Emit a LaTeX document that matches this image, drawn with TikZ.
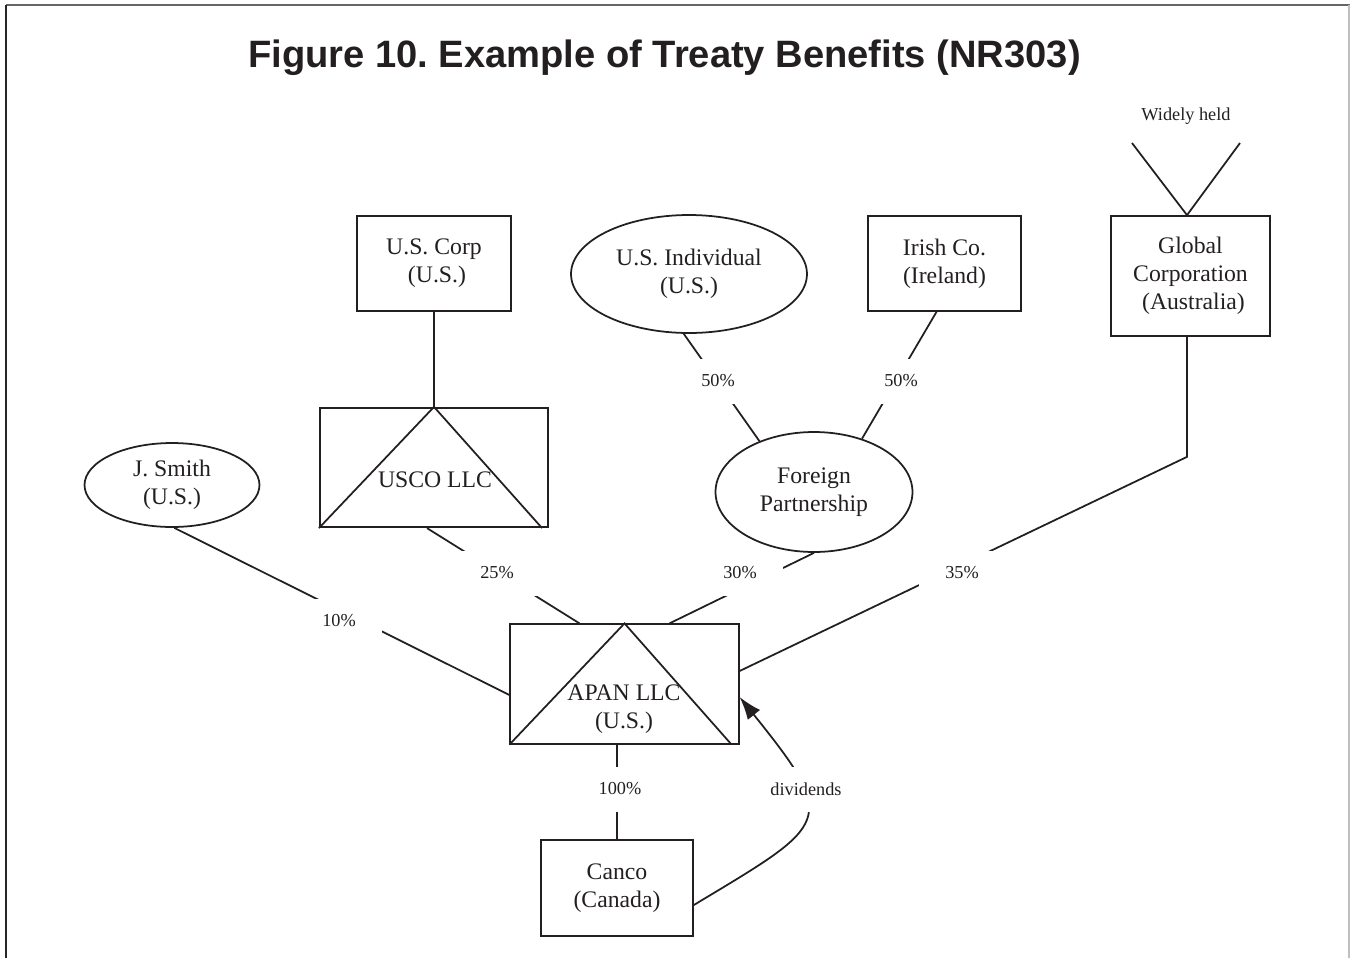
\documentclass[tikz,border=0pt]{standalone}
\usepackage{fontspec}
\setmainfont{Liberation Serif}
\newfontfamily\headfont{Liberation Sans}
\usepackage{tikz}
\definecolor{inkdark}{RGB}{35, 31, 32}
\usetikzlibrary{shapes.geometric, arrows.meta, positioning, calc}
\frenchspacing

\begin{document}
\begin{tikzpicture}[
    x=0.02cm, y=-0.02cm,
    entity/.style={rectangle, draw=inkdark, line width=1pt, align=center, inner sep=0pt, text=inkdark, font=\fontsize{13.5}{16}\selectfont},
    person/.style={ellipse, draw=inkdark, line width=1pt, align=center, inner sep=0pt, text=inkdark, font=\fontsize{13.5}{16}\selectfont},
    llc/.style={entity, minimum width=4.57cm, minimum height=2.39cm},
    plain/.style={align=center, inner sep=0pt, text=inkdark, font=\fontsize{13.5}{16}\selectfont},
    share/.style={fill=white, minimum width=1.72cm, minimum height=0.9cm, inner sep=0pt, text=inkdark, font=\fontsize{10.4}{12}\selectfont},
    link/.style={draw=inkdark, line width=1pt},
    arrow/.style={-{Latex[length=13pt, width=9pt]}, inkdark, line width=1pt}
]
    \useasboundingbox (0,0) rectangle (1350,958);
    % frame
    \draw[black!60, line width=1.2pt] (6,5) -- (1350,5);
    \draw[black!85, line width=1.5pt] (6,5) -- (6,958);
    \draw[black!25, line width=1pt] (1349,5) -- (1349,958);

    \node[anchor=base, text=inkdark, font=\headfont\bfseries\fontsize{21.7}{26}\selectfont] (title) at (664.5,67.5) {Figure 10. Example of Treaty Benefits (NR303)};

    % owners
    \node[entity, minimum width=3.08cm, minimum height=1.9cm] (uscorp) at (434,263.5) {U.S. Corp\\\ (U.S.)};
    \node[person, minimum width=4.72cm, minimum height=2.36cm] (usind) at (689,274) {U.S. Individual\\(U.S.)};
    \node[entity, minimum width=3.06cm, minimum height=1.9cm] (irish) at (944.5,263.5) {Irish Co.\\(Ireland)};
    \node[entity, minimum width=3.18cm, minimum height=2.4cm] (global) at (1190.5,276) {Global\\Corporation\\\ (Australia)};
    \node[plain, font=\fontsize{10.4}{12}\selectfont] (widely) at (1186,116) {Widely held};
    \coordinate (wl) at (1132,143);
    \coordinate (wr) at (1240,143);

    \node[person, minimum width=3.5cm, minimum height=1.68cm] (smith) at (172,485) {J. Smith\\(U.S.)};
    \node[llc] (usco) at (434,467.5) {};
    \node[plain] (uscotext) at (435,480) {USCO LLC};
    \node[person, minimum width=3.94cm, minimum height=2.4cm] (fp) at (814,492) {Foreign\\Partnership};

    \node[llc] (apan) at (624.5,684) {};
    \node[plain] (apantext) at (624,709) {APAN LLC\\(U.S.)};
    \node[entity, minimum width=3.04cm, minimum height=1.92cm] (canco) at (617,888) {Canco\\(Canada)};

    % triangles inside the LLC boxes
    \draw[link] (usco.south west) -- (usco.north) -- ($(usco.south east)+(-7,0)$);
    \draw[link] (apan.south west) -- (apan.north) -- ($(apan.south east)+(-8,0)$);

    % ownership lines
    \draw[link] (wl) -- ($(global.north)+(-3.5,0)$) -- (wr);
    \draw[link] (uscorp.south) -- (usco.north);
    \draw[link] (usind.265) -- (fp.137);
    \draw[link] ($(irish.south)+(-8,0)$) -- (fp.48);
    \draw[link] (smith.-87) -- ($(apan.west)+(0,11)$);
    \draw[link] ($(usco.south)+(-7,0)$) -- ($(apan.north)+(-45,0)$);
    \draw[link] (fp.south) -- ($(apan.north)+(45,0)$);
    \coordinate (bend) at ($(global.south)+(-3.5,120)$);
    \draw[link] ($(global.south)+(-3.5,0)$) -- (bend) -- ($(apan.east)+(0,-13)$);
    \draw[link] (canco.north) -- (canco.north |- apan.south);
    \draw[arrow] ($(canco.east)+(0,17)$) .. controls (830,823) and (840,822) .. ($(apan.east)+(0,13)$);

    % percentages
    \node[share] (p50a) at (718,381) {50\%};
    \node[share] (p50b) at (901,381) {50\%};
    \node[share] (p10) at (339,621) {10\%};
    \node[share] (p25) at (497,573) {25\%};
    \node[share] (p30) at (740,573) {30\%};
    \node[share] (p35) at (962,573) {35\%};
    \node[share] (p100) at (620,789) {100\%};
    \node[share] (div) at (806,789) {dividends};
\end{tikzpicture}
\end{document}
